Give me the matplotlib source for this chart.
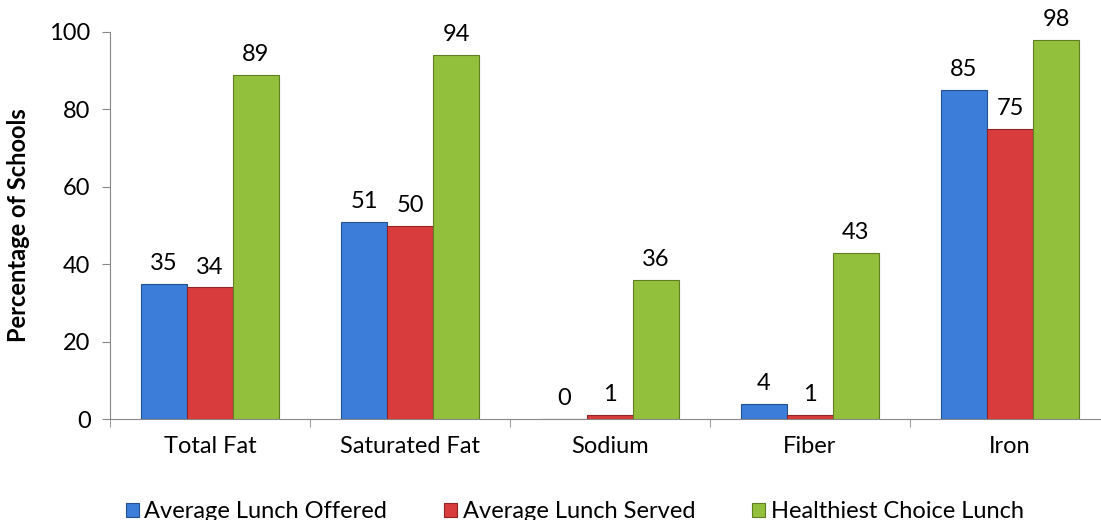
import matplotlib.pyplot as plt
import numpy as np

categories = ['Total Fat', 'Saturated Fat', 'Sodium', 'Fiber', 'Iron']
offered = [35, 51, 0, 4, 85]
served = [34, 50, 1, 1, 75]
healthiest = [89, 94, 36, 43, 98]
series_names = ['Average Lunch Offered', 'Average Lunch Served', 'Healthiest Choice Lunch']

colors = ['#3b7dd8', '#d93c3c', '#93c03c']
edges = ['#24508f', '#8f2424', '#5f7f22']

plt.rcParams['font.family'] = ['Lato', 'DejaVu Sans']

fig = plt.figure(figsize=(11.01, 5.2), dpi=100)
ax = fig.add_axes([110 / 1101, 1 - 419 / 520, 1000 / 1101, 387 / 520])

x = np.arange(len(categories))
w = 0.23
for k, vals in enumerate([offered, served, healthiest]):
    pos = x + (k - 1) * w
    ax.bar(pos, vals, w, color=colors[k], edgecolor=edges[k], linewidth=0.8,
           label=series_names[k], zorder=3)
    for xp, v in zip(pos, vals):
        ax.annotate(str(v), (xp, v), xytext=(0, 7), textcoords='offset points',
                    ha='center', va='bottom', fontsize=17)

ax.set_xlim(-0.5, 4.5)
ax.set_ylim(0, 100)
ax.set_yticks([0, 20, 40, 60, 80, 100])
ax.set_xticks(x)
ax.set_xticklabels(categories)
ax.set_xticks(np.arange(-0.5, 5, 1), minor=True)
ax.tick_params(axis='x', which='major', length=0, pad=12, labelsize=17)
ax.tick_params(axis='x', which='minor', length=6, color='#888888', direction='out')
ax.tick_params(axis='y', length=6, color='#888888', labelsize=17, pad=8)
ax.set_ylabel('Percentage of Schools', fontsize=17, fontweight='bold', labelpad=14)
for s in ['top', 'right']:
    ax.spines[s].set_visible(False)
for s in ['left', 'bottom']:
    ax.spines[s].set_color('#888888')

fig.legend(loc='lower center', bbox_to_anchor=(0.522, -0.045), ncol=3, frameon=False,
           fontsize=17, handlelength=0.55, handleheight=0.55, handletextpad=0.25,
           columnspacing=2.4)

fig.savefig('out.png', dpi=100)
